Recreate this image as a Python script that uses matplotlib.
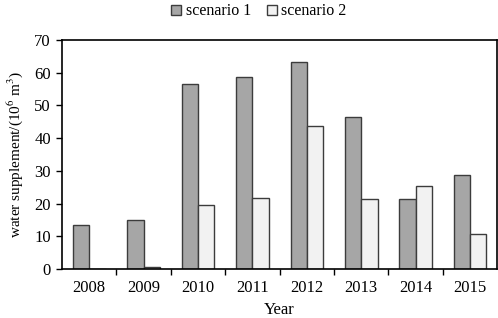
import numpy as np
import matplotlib.pyplot as plt

plt.rcParams['font.family'] = ['Liberation Serif', 'DejaVu Serif']
plt.rcParams['mathtext.fontset'] = 'stix'

# data
years = ['2008', '2009', '2010', '2011', '2012', '2013', '2014', '2015']
scenario1 = [13.4, 15.0, 56.7, 58.6, 63.2, 46.4, 21.3, 28.6]
scenario2 = [0.0, 0.6, 19.7, 21.7, 43.7, 21.4, 25.3, 10.8]

fig = plt.figure(figsize=(4.98, 3.18), dpi=100)
ax = fig.add_axes([0.1245, 0.154, 0.874, 0.72])

x = np.arange(len(years))
w = 0.3
edge = '#3c3c3c'
ax.bar(x - w / 2, scenario1, w, color='#a6a6a6', edgecolor=edge, linewidth=1.0, label='scenario 1')
ax.bar(x + w / 2, scenario2, w, color='#f2f2f2', edgecolor=edge, linewidth=1.0, label='scenario 2')

ax.set_xlim(-0.5, len(years) - 0.5)
ax.set_ylim(0, 70)
ax.set_yticks(np.arange(0, 71, 10))
ax.set_xticks(x)
ax.set_xticklabels(years)
ax.set_xticks(np.arange(0.5, len(years) - 0.5, 1), minor=True)
ax.tick_params(axis='x', which='major', length=0, labelsize=12, pad=8)
ax.tick_params(axis='x', which='minor', length=4, direction='out', width=1)
ax.tick_params(axis='y', direction='out', length=4, width=1, labelsize=12, pad=4)

for s in ax.spines.values():
    s.set_linewidth(1.2)
    s.set_color('black')

ax.set_xlabel('Year', fontsize=12, labelpad=4)
ax.set_ylabel('water supplement/(10$^{6}$ m$^{3}$)', fontsize=11, labelpad=7)

fig.legend(loc='upper center', bbox_to_anchor=(0.52, 1.035), ncol=2, frameon=False,
           fontsize=11.5, handlelength=0.6, handleheight=0.6, handletextpad=0.3,
           columnspacing=1.0)

fig.savefig('out.png', dpi=100)
